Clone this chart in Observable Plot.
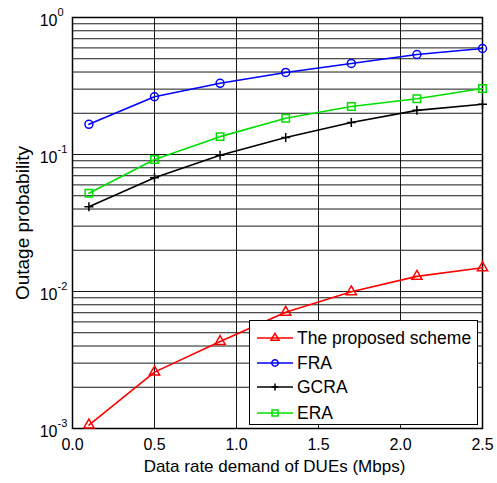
<!DOCTYPE html>
<html>
<head>
<meta charset="utf-8">
<script src="https://cdn.jsdelivr.net/npm/d3@7"></script>
<script src="https://cdn.jsdelivr.net/npm/@observablehq/plot@0.6"></script>
<style>
  body { margin: 0; background: #fff; }
  #wrap { position: relative; width: 497px; height: 483px; font-family: "Liberation Sans", Arial, sans-serif; }
  #legend { position: absolute; left: 249px; top: 320px; width: 229px; height: 105px; border: 1.5px solid #000; background: #fff; box-sizing: border-box; }
  .row { position: absolute; left: 0; height: 24px; display: flex; align-items: center; font-size: 17.5px; color: #000; }
  .row svg { margin-left: 6px; margin-right: 3px; }
</style>
</head>
<body>
<div id="wrap"></div>
<script>
const rates = [0.1, 0.5, 0.9, 1.3, 1.7, 2.1, 2.5];
const proposed = [0.00106, 0.00258, 0.00432, 0.00706, 0.00995, 0.0129, 0.0149];
const fra = [0.166, 0.264, 0.331, 0.397, 0.462, 0.537, 0.594];
const gcra = [0.0415, 0.0676, 0.0989, 0.133, 0.171, 0.210, 0.233];
const era = [0.0522, 0.092, 0.135, 0.184, 0.224, 0.255, 0.303];

const seriesNames = ["The proposed scheme", "FRA", "GCRA", "ERA"];
const seriesColors = ["#ff0000", "#0000ff", "#000000", "#00e000"];
const seriesSymbols = ["triangle", "circle", "plus", "square"];
const seriesSizes = [3.8, 4, 3, 4.2];

const xTicks = [0, 0.5, 1, 1.5, 2, 2.5];
const xGrid = [0.5, 1, 1.5, 2];
const yDecades = [0.001, 0.01, 0.1, 1];
const yExponents = ["-3", "-2", "-1", "0"];
const mantissas = [1, 2, 3, 4, 5, 6, 7, 8, 9];
const xLabel = "Data rate demand of DUEs (Mbps)";
const yLabel = "Outage probability";

const values = [proposed, fra, gcra, era];
const rows = [];
values.forEach((vals, s) => vals.forEach((v, i) => rows.push({x: rates[i], y: v, s})));

const yGrid = [];
yDecades.slice(0, 3).forEach(d => mantissas.forEach(m => yGrid.push(d * m)));
yGrid.push(1);

const tickLabels = yDecades.map((d, i) => ({y: d, e: yExponents[i]}));

const marks = [
  Plot.ruleY(yGrid, {stroke: "#000", strokeWidth: 1, strokeOpacity: 0.9}),
  Plot.ruleX(xGrid, {stroke: "#000", strokeWidth: 1, strokeOpacity: 0.9}),
  Plot.frame({stroke: "#000", strokeWidth: 1.5}),
];
values.forEach((vals, s) => {
  const data = rows.filter(r => r.s === s);
  marks.push(Plot.line(data, {x: "x", y: "y", stroke: seriesColors[s], strokeWidth: 1.6}));
  marks.push(Plot.dot(data, {x: "x", y: "y", stroke: seriesColors[s], fill: "none", symbol: seriesSymbols[s], r: seriesSizes[s], strokeWidth: 1.5}));
});
marks.push(
  Plot.axisX(xTicks, {tickSize: 0, tickPadding: 10, fontSize: 16, label: null}),
  Plot.text(tickLabels, {y: "y", text: () => "10", frameAnchor: "left", textAnchor: "end", dx: -15, dy: 3, fontSize: 16, fill: "#000"}),
  Plot.text(tickLabels, {y: "y", text: "e", frameAnchor: "left", textAnchor: "start", dx: -15, dy: -5, fontSize: 11, fill: "#000"}),
  Plot.text([xLabel], {text: d => d, frameAnchor: "bottom", textAnchor: "middle", lineAnchor: "top", dx: -3, dy: 31, fontSize: 17, fill: "#000"}),
  Plot.text([yLabel], {text: d => d, frameAnchor: "left", textAnchor: "middle", rotate: -90, dx: -50, fontSize: 19, fill: "#000"})
);

const chart = Plot.plot({
  width: 497,
  height: 483,
  marginLeft: 72,
  marginRight: 15,
  marginTop: 17,
  marginBottom: 55,
  style: {fontFamily: "'Liberation Sans', Arial, sans-serif", color: "#000", background: "#fff"},
  x: {domain: [0, 2.5], axis: null},
  y: {type: "log", domain: [0.001, 1], axis: null},
  marks
});
const wrap = document.getElementById("wrap");
wrap.appendChild(chart);

// legend
const legend = document.createElement("div");
legend.id = "legend";
const rowTops = [5, 30, 54, 80];
seriesNames.forEach((name, i) => {
  const row = document.createElement("div");
  row.className = "row";
  row.style.top = rowTops[i] + "px";
  const sw = d3.create("svg").attr("width", 38).attr("height", 20);
  sw.append("line").attr("x1", 1).attr("x2", 37).attr("y1", 10).attr("y2", 10)
    .attr("stroke", seriesColors[i]).attr("stroke-width", 1.6);
  const symMap = {triangle: d3.symbolTriangle, circle: d3.symbolCircle, plus: d3.symbolPlus, square: d3.symbolSquare};
  const sz = Math.PI * Math.pow(seriesSizes[i] * 0.8, 2);
  sw.append("path").attr("d", d3.symbol(symMap[seriesSymbols[i]], sz)())
    .attr("transform", "translate(19,10)")
    .attr("fill", "none").attr("stroke", seriesColors[i]).attr("stroke-width", 1.5);
  row.appendChild(sw.node());
  const t = document.createElement("span");
  t.textContent = name;
  row.appendChild(t);
  legend.appendChild(row);
});
wrap.appendChild(legend);
</script>
</body>
</html>
